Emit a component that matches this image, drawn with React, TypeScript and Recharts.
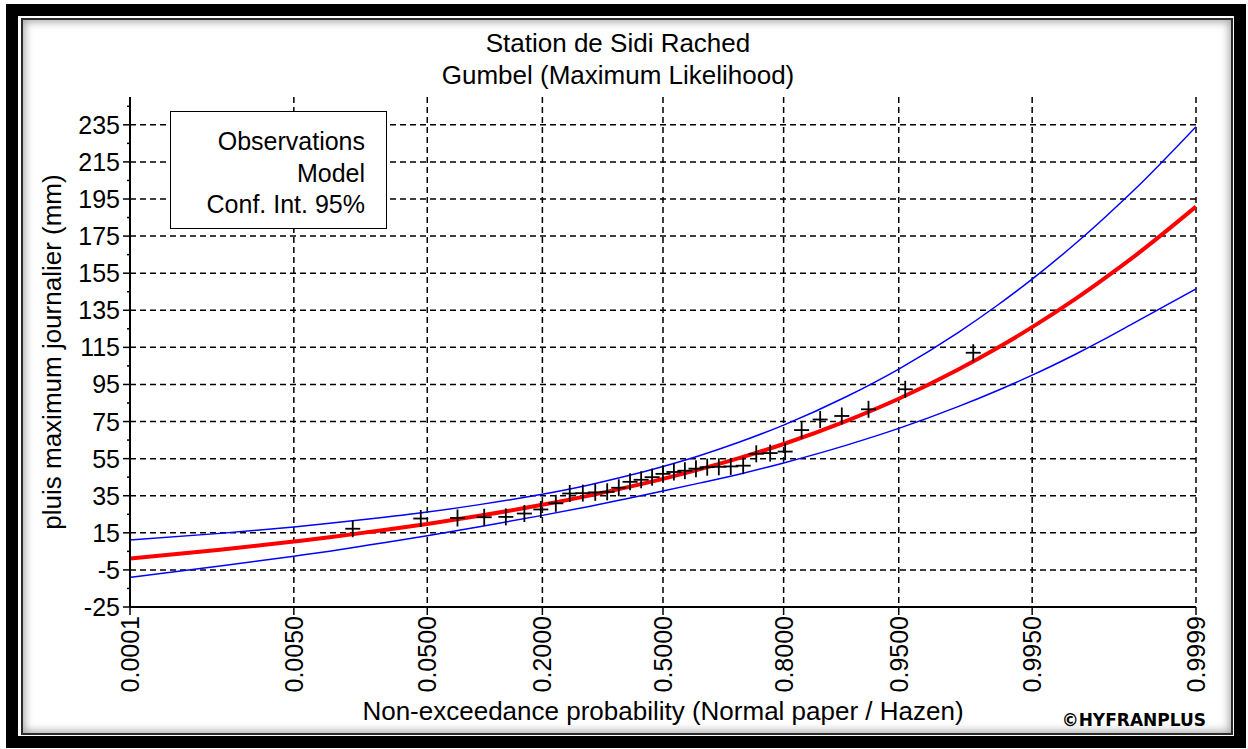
import React from 'react';
import { ComposedChart, Line, Scatter, XAxis, YAxis, CartesianGrid, Legend } from 'recharts';

// ---- axis definitions ----
const tickProbs = [0.0001, 0.005, 0.05, 0.2, 0.5, 0.8, 0.95, 0.995, 0.9999];
const tickLabels = ['0.0001', '0.0050', '0.0500', '0.2000', '0.5000', '0.8000', '0.9500', '0.9950', '0.9999'];
const yMajorTicks = [-25, -5, 15, 35, 55, 75, 95, 115, 135, 155, 175, 195, 215, 235];
const yMinorTicks = [-15, 5, 25, 45, 65, 85, 105, 125, 145, 165, 185, 205, 225, 245];
const yDomain = [-25, 250];

// ---- fitted model and 95% confidence band ----
const curveProbs = [0.0001, 0.001, 0.005, 0.01, 0.02, 0.05, 0.1, 0.2, 0.3, 0.4, 0.5, 0.6, 0.7, 0.8, 0.9, 0.95, 0.98, 0.99, 0.995, 0.998, 0.999, 0.9995, 0.9999];
const modelValues = [1.1, 5.9, 10.3, 12.6, 15.4, 19.8, 24.2, 30.1, 34.9, 39.5, 44.1, 49.2, 55.1, 62.9, 75.4, 87.3, 102.8, 114.4, 125.9, 141.1, 152.7, 164.2, 190.9];
const upperValues = [11.2, 14.7, 18.2, 20.1, 22.4, 26.2, 30.2, 35.8, 40.7, 45.6, 50.8, 56.6, 63.7, 73.1, 88.5, 103.3, 122.7, 137.3, 151.8, 171.0, 185.6, 200.1, 234.0];
const lowerValues = [-9.0, -2.9, 2.4, 5.1, 8.4, 13.4, 18.3, 24.4, 29.1, 33.4, 37.5, 41.8, 46.5, 52.7, 62.3, 71.3, 82.9, 91.5, 100.0, 111.3, 119.8, 128.3, 146.5];

// ---- observations (Hazen plotting positions) ----
const obsProbs = [0.0152, 0.0455, 0.0758, 0.1061, 0.1364, 0.1667, 0.1970, 0.2273, 0.2576, 0.2879, 0.3182, 0.3485, 0.3788, 0.4091, 0.4394, 0.4697, 0.5000, 0.5303, 0.5606, 0.5909, 0.6212, 0.6515, 0.6818, 0.7121, 0.7424, 0.7727, 0.8030, 0.8333, 0.8636, 0.8939, 0.9242, 0.9545, 0.9848];
const obsValues = [17.2, 22.7, 23.0, 23.4, 23.6, 25.4, 27.6, 30.9, 36.2, 36.4, 36.8, 37.1, 39.3, 42.5, 43.6, 45.0, 46.8, 47.8, 48.5, 49.6, 50.4, 50.6, 50.8, 51.2, 57.6, 58.0, 58.8, 70.4, 76.1, 78.0, 81.6, 92.4, 112.1];

const legendLabels = ['Observations', 'Model', 'Conf. Int. 95%'];
const titleLines = ['Station de Sidi Rached', 'Gumbel (Maximum Likelihood)'];
const xTitle = 'Non-exceedance probability (Normal paper / Hazen)';
const yTitle = 'pluis maximum journalier (mm)';
const credit = '\u00A9HYFRANPLUS';

// normal probability paper: probability -> standard normal quantile
function probit(p: number): number {
  const a = [-3.969683028665376e1, 2.209460984245205e2, -2.759285104469687e2, 1.38357751867269e2, -3.066479806614716e1, 2.506628277459239];
  const b = [-5.447609879822406e1, 1.615858368580409e2, -1.556989798598866e2, 6.680131188771972e1, -1.328068155288572e1];
  const c = [-7.784894002430293e-3, -3.223964580411365e-1, -2.400758277161838, -2.54967103925772, 4.374664141464968, 2.938163982698783];
  const d = [7.784695709041462e-3, 3.224671290700398e-1, 2.445134137142996, 3.754408661907416];
  const pl = 0.02425;
  if (p < pl) {
    const q = Math.sqrt(-2 * Math.log(p));
    return (((((c[0] * q + c[1]) * q + c[2]) * q + c[3]) * q + c[4]) * q + c[5]) / ((((d[0] * q + d[1]) * q + d[2]) * q + d[3]) * q + 1);
  }
  if (p <= 1 - pl) {
    const q = p - 0.5;
    const r = q * q;
    return ((((((a[0] * r + a[1]) * r + a[2]) * r + a[3]) * r + a[4]) * r + a[5]) * q) / (((((b[0] * r + b[1]) * r + b[2]) * r + b[3]) * r + b[4]) * r + 1);
  }
  const q = Math.sqrt(-2 * Math.log(1 - p));
  return -(((((c[0] * q + c[1]) * q + c[2]) * q + c[3]) * q + c[4]) * q + c[5]) / ((((d[0] * q + d[1]) * q + d[2]) * q + d[3]) * q + 1);
}

const tickZ = tickProbs.map(probit);
const xDomain = [tickZ[0], tickZ[tickZ.length - 1]];
const yAllTicks = [...yMajorTicks, ...yMinorTicks].sort((m, n) => m - n);

const curveData = curveProbs.map((p, i) => ({ z: probit(p), model: modelValues[i], upper: upperValues[i], lower: lowerValues[i] }));
const obsData = obsProbs.map((p, i) => ({ z: probit(p), obs: obsValues[i] }));

const FONT = '"Liberation Sans", Arial, Helvetica, sans-serif';

const XTick = (props: any) => {
  const { x, y, payload } = props;
  const i = tickZ.findIndex((z) => Math.abs(z - payload.value) < 1e-6);
  return (
    <text x={x} y={y} transform={`rotate(-90 ${x} ${y})`} textAnchor="end" dominantBaseline="central" fontSize={25} fill="#000" fontFamily={FONT}>
      {i >= 0 ? tickLabels[i] : ''}
    </text>
  );
};

const YTick = (props: any) => {
  const { x, y, payload } = props;
  const v = payload.value;
  const major = yMajorTicks.includes(v);
  return (
    <g>
      <line x1={x - (major ? 7 : 3)} y1={y} x2={x} y2={y} stroke="#000" strokeWidth={1.5} />
      {major && (
        <text x={x - 10} y={y} textAnchor="end" dominantBaseline="central" fontSize={25} fill="#000" fontFamily={FONT}>
          {v}
        </text>
      )}
    </g>
  );
};

const NoTick = () => <g />;

const Cross = (props: any) => {
  const { cx, cy } = props;
  if (cx == null || cy == null) return <g />;
  return (
    <g>
      <line x1={cx - 7.5} y1={cy} x2={cx + 7.5} y2={cy} stroke="#000" strokeWidth={1.8} />
      <line x1={cx} y1={cy - 8.5} x2={cx} y2={cy + 8.5} stroke="#000" strokeWidth={1.8} />
    </g>
  );
};

const LegendBox = () => (
  <div
    style={{
      width: 217,
      height: 118,
      boxSizing: 'border-box',
      border: '1.5px solid #000',
      background: '#fff',
      textAlign: 'right',
      paddingTop: 14,
      paddingRight: 21,
      fontFamily: FONT,
      fontSize: 25,
      lineHeight: '31.7px',
      color: '#000',
    }}
  >
    {legendLabels.map((t) => (
      <div key={t}>{t}</div>
    ))}
  </div>
);

export default function App() {
  return (
    <div style={{ position: 'absolute', left: 0, top: 0, width: 1248, height: 749, background: '#fff', overflow: 'hidden' }}>
      <div style={{ position: 'absolute', left: 6, top: 4, width: 1240, height: 744, boxSizing: 'border-box', border: '12px solid #000' }} />
      <div
        style={{
          position: 'absolute',
          left: 21,
          top: 18,
          width: 1212,
          height: 717,
          boxSizing: 'border-box',
          border: '2px solid #2b2b2b',
          boxShadow: 'inset 0 0 9px 2px rgba(0,0,0,0.35)',
          background: '#fff',
        }}
      />
      {titleLines.map((t, i) => (
        <div
          key={t}
          style={{
            position: 'absolute',
            left: 0,
            width: 1236,
            top: 27 + i * 32,
            height: 32,
            lineHeight: '32px',
            textAlign: 'center',
            fontFamily: FONT,
            fontSize: 26,
            color: '#000',
          }}
        >
          {t}
        </div>
      ))}
      <div
        style={{
          position: 'absolute',
          right: 42,
          top: 710,
          fontFamily: '"DejaVu Sans", sans-serif',
          fontWeight: 'bold',
          fontSize: 17,
          color: '#000',
        }}
      >
        {credit}
      </div>
      <div style={{ position: 'absolute', left: 0, top: 0 }}>
        <ComposedChart width={1248} height={749} margin={{ top: 97, right: 52, bottom: 32, left: 30 }} style={{ fontFamily: FONT }}>
          <CartesianGrid
            stroke="#000"
            strokeWidth={1.5}
            strokeDasharray="6 4"
            horizontalValues={yMajorTicks}
            verticalValues={tickZ}
          />
          <XAxis
            xAxisId={0}
            type="number"
            dataKey="z"
            domain={xDomain}
            ticks={tickZ}
            allowDataOverflow
            height={110}
            tickSize={8}
            tickMargin={1}
            tick={<XTick />}
            axisLine={{ stroke: '#000', strokeWidth: 2 }}
            tickLine={{ stroke: '#000', strokeWidth: 1.5 }}
            interval={0}
            label={(p: any) => {
              const vb = p.viewBox || {};
              return (
                <text x={vb.x + vb.width / 2} y={vb.y + 104} textAnchor="middle" dominantBaseline="central" fontSize={26} fill="#000" fontFamily={FONT}>
                  {xTitle}
                </text>
              );
            }}
          />
          <XAxis
            xAxisId="top"
            orientation="top"
            type="number"
            dataKey="z"
            domain={xDomain}
            ticks={tickZ}
            allowDataOverflow
            height={0}
            mirror
            tickSize={8}
            tick={<NoTick />}
            axisLine={{ stroke: '#000', strokeWidth: 2 }}
            tickLine={{ stroke: '#000', strokeWidth: 1.5 }}
            interval={0}
          />
          <YAxis
            yAxisId={0}
            type="number"
            domain={yDomain}
            ticks={yAllTicks}
            allowDataOverflow
            width={100}
            tickSize={0}
            tickMargin={0}
            tickLine={false}
            tick={<YTick />}
            interval={0}
            axisLine={{ stroke: '#000', strokeWidth: 2 }}
            label={(p: any) => {
              const vb = p.viewBox || {};
              const cx = vb.x + 31;
              const cy = vb.y + vb.height / 2;
              return (
                <text x={cx} y={cy} transform={`rotate(-90 ${cx} ${cy})`} textAnchor="middle" fontSize={26} fill="#000" fontFamily={FONT}>
                  {yTitle}
                </text>
              );
            }}
          />
          <YAxis
            yAxisId="right"
            orientation="right"
            type="number"
            domain={yDomain}
            ticks={yMajorTicks}
            allowDataOverflow
            width={0}
            tickLine={false}
            tick={<NoTick />}
            axisLine={{ stroke: '#000', strokeWidth: 2 }}
          />
          <Legend
            layout="vertical"
            align="center"
            verticalAlign="middle"
            wrapperStyle={{ left: 170, top: 111, width: 217, height: 118 }}
            content={() => <LegendBox />}
          />
          <Scatter
            name="Observations"
            data={obsData}
            dataKey="obs"
            shape={<Cross />}
            isAnimationActive={false}
            legendType="none"
          />
          <Line
            name="Conf. Int. 95% (upper)"
            data={curveData}
            dataKey="upper"
            type="monotone"
            stroke="#0000ff"
            strokeWidth={1.5}
            dot={false}
            activeDot={false}
            isAnimationActive={false}
          />
          <Line
            name="Conf. Int. 95% (lower)"
            data={curveData}
            dataKey="lower"
            type="monotone"
            stroke="#0000ff"
            strokeWidth={1.5}
            dot={false}
            activeDot={false}
            isAnimationActive={false}
          />
          <Line
            name="Model"
            data={curveData}
            dataKey="model"
            type="monotone"
            stroke="#ff0000"
            strokeWidth={4}
            dot={false}
            activeDot={false}
            isAnimationActive={false}
          />
        </ComposedChart>
      </div>
    </div>
  );
}
